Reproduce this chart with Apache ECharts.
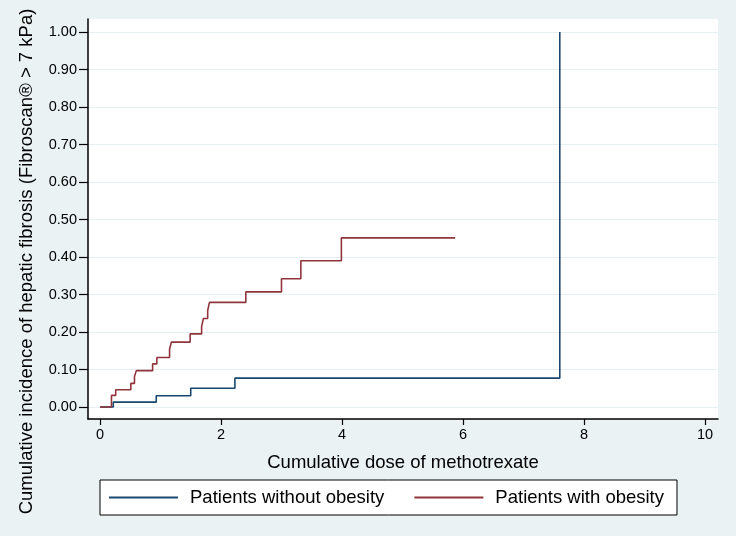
<!DOCTYPE html>
<html><head><meta charset="utf-8">
<script src="https://cdn.jsdelivr.net/npm/echarts@6/dist/echarts.min.js"></script>
<style>html,body{margin:0;padding:0;background:#eaf2f3}#c{width:736px;height:536px}</style>
</head><body><div id="c"></div>
<script>
const seriesNames = ['Patients without obesity', 'Patients with obesity'];
const doseWithout = [0, 0.22, 0.93, 1.50, 2.23, 7.60];
const incWithout  = [0, 0.013, 0.030, 0.050, 0.077, 1.00];
const doseWith = [0, 0.19, 0.26, 0.51, 0.57, 0.60, 0.87, 0.94, 1.15, 1.18, 1.49, 1.68, 1.71, 1.78, 1.81, 2.41, 3.00, 3.32, 3.99, 5.87];
const incWith  = [0, 0.031, 0.046, 0.063, 0.081, 0.097, 0.115, 0.132, 0.154, 0.173, 0.195, 0.215, 0.236, 0.257, 0.279, 0.307, 0.342, 0.390, 0.451, 0.451];
const xTicks = [0, 2, 4, 6, 8, 10];
const yTicks = [0, 0.1, 0.2, 0.3, 0.4, 0.5, 0.6, 0.7, 0.8, 0.9, 1.0];
const xTitle = 'Cumulative dose of methotrexate';
const yTitle = 'Cumulative incidence of hepatic fibrosis (Fibroscan® > 7 kPa)';

const FONT = "'Liberation Sans', Arial, sans-serif";
const zip = (xs, ys) => xs.map((x, i) => [x, ys[i]]);

const chart = echarts.init(document.getElementById('c'), null, {renderer: 'canvas'});
chart.setOption({
  animation: false,
  backgroundColor: '#eaf2f3',
  textStyle: {fontFamily: FONT},
  grid: {left: 88, right: 18, top: 19, bottom: 117, show: true, backgroundColor: '#ffffff', borderWidth: 0},
  xAxis: {
    type: 'value', min: -0.198, max: 10.215,
    name: xTitle, nameLocation: 'middle', nameGap: 34,
    nameTextStyle: {fontSize: 18.5, color: '#000', fontFamily: FONT},
    axisLine: {show: true, onZero: false, lineStyle: {color: '#000', width: 1.5}},
    axisTick: {show: true, length: 6, customValues: xTicks, lineStyle: {color: '#000', width: 1.2}},
    axisLabel: {customValues: xTicks, margin: 8, fontSize: 14.5, color: '#000', fontFamily: FONT},
    splitLine: {show: false}
  },
  yAxis: {
    type: 'value', min: -0.032, max: 1.0347,
    axisLine: {show: true, onZero: false, lineStyle: {color: '#000', width: 1.5}},
    axisTick: {show: true, length: 9, customValues: yTicks, lineStyle: {color: '#000', width: 1.2}},
    axisLabel: {customValues: yTicks, margin: 11, fontSize: 14.5, color: '#000', fontFamily: FONT,
      formatter: v => Number(v).toFixed(2)},
    splitLine: {show: true, lineStyle: {color: '#e6eff1', width: 1.2}}
  },
  legend: {
    left: 100, top: 480,
    orient: 'horizontal',
    padding: [7, 13, 7, 8],
    itemGap: 29, itemWidth: 69, itemHeight: 14,
    borderColor: '#000', borderWidth: 1, backgroundColor: '#ffffff',
    itemStyle: {opacity: 0},
    textStyle: {fontSize: 18.5, color: '#000', fontFamily: FONT, padding: [0, 0, 0, 7], lineHeight: 21},
    data: seriesNames
  },
  graphic: [{
    type: 'text', x: 27, y: 261.5, rotation: Math.PI / 2,
    style: {text: yTitle, fontSize: 18.5, fontFamily: FONT, fill: '#000', align: 'center', verticalAlign: 'middle'}
  }],
  series: [
    {name: seriesNames[0], type: 'line', step: 'end', symbol: 'none', data: zip(doseWithout, incWithout),
     lineStyle: {color: '#1a476f', width: 1.6}, itemStyle: {color: '#1a476f'}},
    {name: seriesNames[1], type: 'line', step: 'end', symbol: 'none', data: zip(doseWith, incWith),
     lineStyle: {color: '#90353b', width: 1.6}, itemStyle: {color: '#90353b'}}
  ]
});
</script>
</body></html>
